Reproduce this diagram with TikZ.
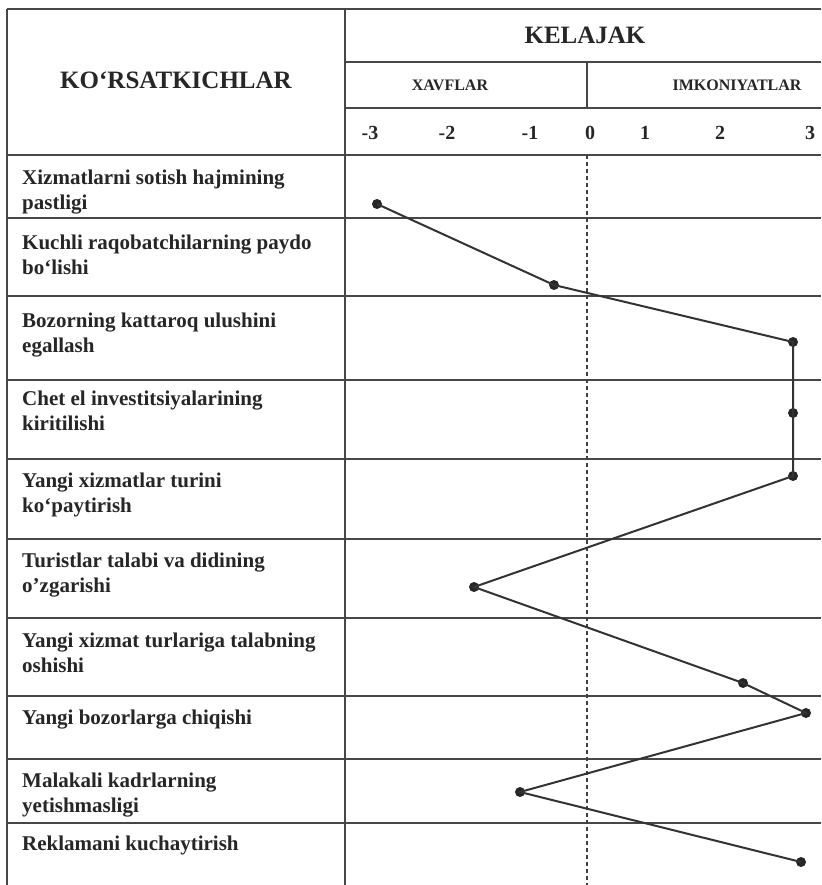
\documentclass[tikz,border=0pt]{standalone}
\usepackage{fontspec}
\setmainfont{Liberation Serif}
\begin{document}
\begin{tikzpicture}[x=1pt,y=-1pt]
\tikzset{
 gridline/.style={draw=black!72, line width=1.5pt},
 lbl/.style={anchor=north west, inner sep=0pt, align=left, font=\fontsize{21}{25}\selectfont\bfseries, text=black!85},
 hdr/.style={inner sep=0pt, font=\fontsize{25}{30}\selectfont\bfseries, text=black!85},
 subhdr/.style={inner sep=0pt, font=\fontsize{16}{19}\selectfont\bfseries, text=black!85},
 num/.style={inner sep=0pt, font=\fontsize{20}{24}\selectfont\bfseries, text=black!85},
 dot/.style={circle, fill=black!85, inner sep=0pt, minimum size=10pt},
 dataline/.style={draw=black!80, line width=2pt},
 zeroline/.style={draw=black!75, line width=1.3pt, dash pattern=on 4pt off 3pt},
}
\useasboundingbox (0,0) rectangle (821,885);
\fill[white] (0,0) rectangle (821,885);
% table frame
\draw[gridline] (7,9) -- (821,9);
\draw[gridline] (7,9) -- (7,885);
\draw[gridline] (345,9) -- (345,885);
\draw[gridline] (345,62) -- (821,62);
\draw[gridline] (345,108) -- (821,108);
\draw[gridline] (587,62) -- (587,108);
\foreach \yy in {155,218,296,380,459,539,618,696,759,823}
  \draw[gridline] (7,\yy) -- (821,\yy);
% zero line
\draw[zeroline] (587,155) -- (587,885);
% header
\node[hdr] (hk) at (176,80) {KO‘RSATKICHLAR};
\node[hdr] (hkel) at (585,35) {KELAJAK};
\node[subhdr] (hx) at (450,85) {XAVFLAR};
\node[subhdr] (hi) at (737,85) {IMKONIYATLAR};
\node[num] (nm3) at (370,133) {-3};
\node[num] (nm2) at (447,133) {-2};
\node[num] (nm1) at (530,133) {-1};
\node[num] (n0) at (590,133) {0};
\node[num] (n1) at (645,133) {1};
\node[num] (n2) at (720,133) {2};
\node[num] (n3) at (810,133) {3};
% row labels
\node[lbl] (l1) at (22,169.5) {Xizmatlarni sotish hajmining\\pastligi};
\node[lbl] (l2) at (22,234.5) {Kuchli raqobatchilarning paydo\\bo‘lishi};
\node[lbl] (l3) at (22,312.5) {Bozorning kattaroq ulushini\\egallash};
\node[lbl] (l4) at (22,390.5) {Chet el investitsiyalarining\\kiritilishi};
\node[lbl] (l5) at (22,472.5) {Yangi xizmatlar turini\\ko‘paytirish};
\node[lbl] (l6) at (22,552.5) {Turistlar talabi va didining\\o’zgarishi};
\node[lbl] (l7) at (22,632.5) {Yangi xizmat turlariga talabning\\oshishi};
\node[lbl] (l8) at (22,709.5) {Yangi bozorlarga chiqishi};
\node[lbl] (l9) at (22,772.5) {Malakali kadrlarning\\yetishmasligi};
\node[lbl] (l10) at (22,835.5) {Reklamani kuchaytirish};
% data points
\node[dot] (p1) at (377,204) {};
\node[dot] (p2) at (554,285) {};
\node[dot] (p3) at (793,342) {};
\node[dot] (p4) at (793,413) {};
\node[dot] (p5) at (793,476) {};
\node[dot] (p6) at (474,587) {};
\node[dot] (p7) at (743,683) {};
\node[dot] (p8) at (806,713) {};
\node[dot] (p9) at (520,792) {};
\node[dot] (p10) at (801,862) {};
\draw[dataline] (p1.center) -- (p2.center) -- (p3.center) -- (p4.center) -- (p5.center) -- (p6.center) -- (p7.center) -- (p8.center) -- (p9.center) -- (p10.center);
\end{tikzpicture}
\end{document}
